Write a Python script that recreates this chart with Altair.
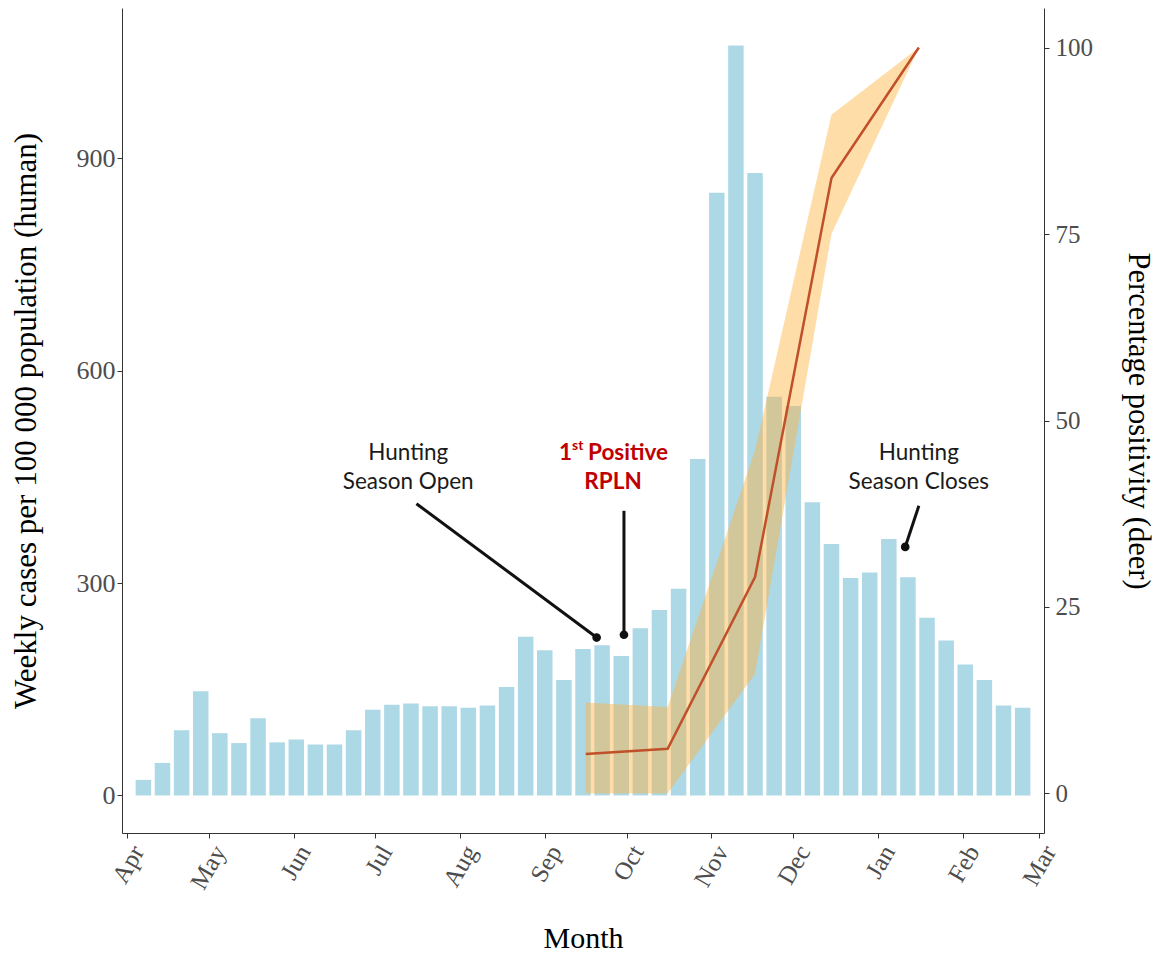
import altair as alt
import pandas as pd

# ---------------- data ----------------
week_start = "2020-04-07"
weekly_cases = [22, 46, 92, 147, 88, 74, 109, 75, 79, 72,
                72, 92, 121, 128, 130, 126, 126, 124, 127, 153,
                224, 205, 163, 207, 212, 197, 236, 262, 292, 475,
                851, 1059, 879, 563, 550, 414, 355, 307, 315, 362,
                308, 251, 219, 185, 163, 127, 124]

deer_dates = ["2020-09-16", "2020-10-16", "2020-11-17", "2020-12-15", "2021-01-16"]
deer_pos = [5.3, 6.0, 29.0, 82.5, 100.0]
deer_lo = [0.0, 0.0, 16.0, 75.0, 100.0]
deer_hi = [12.2, 11.6, 46.0, 91.0, 100.0]

month_years = [2020] * 9 + [2021] * 3
month_nums = [4, 5, 6, 7, 8, 9, 10, 11, 12, 1, 2, 3]

label_text = ["Hunting", "Season Open", "Hunting", "Season Closes"]
label_date = ["2020-07-13", "2020-07-13", "2021-01-16", "2021-01-16"]
label_value = [484, 443, 484, 443]

red_text = ["RPLN"]
red_date = ["2020-09-26"]
red_value = [443]

first_pos_date = ["2020-09-26"]
first_pos_value = [484]

leader_from_date = ["2020-07-16", "2020-09-30", "2021-01-16"]
leader_from_value = [412, 402, 409]
leader_to_date = ["2020-09-20", "2020-09-30", "2021-01-11"]
leader_to_value = [223, 227, 351]

# ---------------- frames ----------------
cases_df = pd.DataFrame({
    "date": pd.date_range(week_start, periods=len(weekly_cases), freq="7D"),
    "cases": weekly_cases,
})
deer_df = pd.DataFrame({
    "date": pd.to_datetime(deer_dates),
    "pos": deer_pos, "lo": deer_lo, "hi": deer_hi,
})
label_df = pd.DataFrame({"date": pd.to_datetime(label_date), "v": label_value, "text": label_text})
red_df = pd.DataFrame({"date": pd.to_datetime(red_date), "v": red_value, "text": red_text})
first_df = pd.DataFrame({"date": pd.to_datetime(first_pos_date), "v": first_pos_value})
leader_df = pd.DataFrame({
    "d1": pd.to_datetime(leader_from_date), "v1": leader_from_value,
    "d2": pd.to_datetime(leader_to_date), "v2": leader_to_value,
})

SERIF = "Liberation Serif"
SANS = "Lato"
RED = "#c00000"
ANN_SIZE = 22.5
left_dom = [-53, 1112]
right_dom = [-5.3, 105.3]

x_scale = alt.Scale(domain=[alt.DateTime(year=2020, month=4, date=1),
                            alt.DateTime(year=2021, month=3, date=1)], nice=False)
month_values = [alt.DateTime(year=y, month=m, date=1) for y, m in zip(month_years, month_nums)]

x_axis = alt.Axis(values=month_values, format="%b", labelAngle=-60, labelAlign="right",
                  labelBaseline="top", labelFont=SERIF, labelFontSize=25,
                  labelColor="#4d4d4d", labelPadding=3, tickSize=5, tickColor="#333333",
                  domainColor="#333333", grid=False, title="Month", titleFont=SERIF,
                  titleFontSize=30, titleFontWeight="normal", titleColor="#000000",
                  titlePadding=30, labelOverlap=False, labelFlush=False)

X = alt.X("date:T", scale=x_scale, axis=x_axis)


def lscale():
    return alt.Scale(domain=left_dom, nice=False, zero=False)


def rscale():
    return alt.Scale(domain=right_dom, nice=False, zero=False)


left_axis = alt.Axis(values=[0, 300, 600, 900], labelFont=SERIF, labelFontSize=26,
                     labelColor="#4d4d4d", labelPadding=2, tickSize=5, tickColor="#333333",
                     domainColor="#333333", grid=False,
                     title="Weekly cases per 100 000 population (human)",
                     titleFont=SERIF, titleFontSize=31, titleFontWeight="normal",
                     titleColor="#000000", titlePadding=34)
right_axis = alt.Axis(orient="right", values=[0, 25, 50, 75, 100], labelFont=SERIF,
                      labelFontSize=25, labelColor="#4d4d4d", labelPadding=6, tickSize=5,
                      tickColor="#333333", domainColor="#333333", grid=False,
                      title="Percentage positivity (deer)", titleFont=SERIF,
                      titleFontSize=30.5, titleFontWeight="normal", titleColor="#000000",
                      titlePadding=30)

bars = alt.Chart(cases_df).mark_bar(color="#add8e6", size=15.5).encode(
    x=X,
    y=alt.Y("cases:Q", scale=lscale(), axis=left_axis),
)

band = alt.Chart(deer_df).mark_area(color="#ffb340", opacity=0.45).encode(
    x=alt.X("date:T", scale=x_scale),
    y=alt.Y("lo:Q", scale=rscale(), axis=None),
    y2="hi:Q",
)

line = alt.Chart(deer_df).mark_line(color="#c0502a", strokeWidth=2.5).encode(
    x=alt.X("date:T", scale=x_scale),
    y=alt.Y("pos:Q", scale=rscale(), axis=right_axis),
)

leaders = alt.Chart(leader_df).mark_rule(color="#111111", strokeWidth=3).encode(
    x=alt.X("d1:T", scale=x_scale),
    x2="d2:T",
    y=alt.Y("v1:Q", scale=lscale(), axis=None),
    y2="v2:Q",
)

dots = alt.Chart(leader_df).mark_circle(color="#111111", size=75, opacity=1).encode(
    x=alt.X("d2:T", scale=x_scale),
    y=alt.Y("v2:Q", scale=lscale(), axis=None),
)

labels = alt.Chart(label_df).mark_text(font=SANS, fontSize=ANN_SIZE, align="center",
                                       baseline="middle", color="#1a1a1a").encode(
    x=alt.X("date:T", scale=x_scale),
    y=alt.Y("v:Q", scale=lscale(), axis=None),
    text="text:N",
)

red_labels = alt.Chart(red_df).mark_text(font=SANS, fontSize=ANN_SIZE, fontWeight="bold",
                                         align="center", baseline="middle", color=RED).encode(
    x=alt.X("date:T", scale=x_scale),
    y=alt.Y("v:Q", scale=lscale(), axis=None),
    text="text:N",
)

fy = alt.Y("v:Q", scale=lscale(), axis=None)
fx = alt.X("date:T", scale=x_scale)
one = alt.Chart(first_df).mark_text(font=SANS, fontSize=ANN_SIZE, fontWeight="bold", color=RED,
                                    align="right", baseline="middle", dx=-41).encode(
    x=fx, y=fy, text=alt.value("1"))
st = alt.Chart(first_df).mark_text(font=SANS, fontSize=14, fontWeight="bold", color=RED,
                                   align="left", baseline="middle", dx=-41, dy=-7).encode(
    x=fx, y=fy, text=alt.value("st"))
positive = alt.Chart(first_df).mark_text(font=SANS, fontSize=ANN_SIZE, fontWeight="bold",
                                         color=RED, align="left", baseline="middle",
                                         dx=-25).encode(
    x=fx, y=fy, text=alt.value("Positive"))

chart = alt.layer(bars, band, line, leaders, dots, labels, red_labels, one, st, positive
                  ).resolve_scale(y="independent").properties(
    width=922, height=825, background="white",
    padding={"left": 2, "top": 0, "right": 2, "bottom": 0}
).configure_view(stroke=None)

chart.save("out.html", embed_options={"renderer": "svg", "actions": False})
